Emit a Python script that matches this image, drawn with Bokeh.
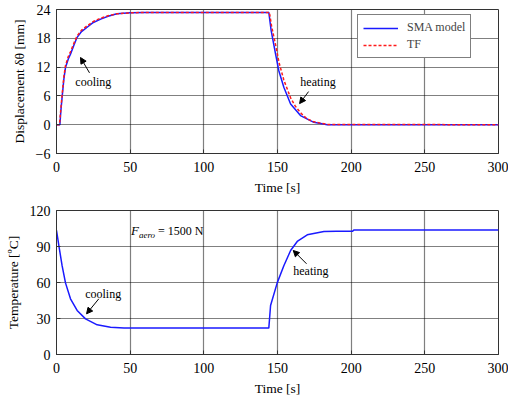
import numpy as np
from bokeh.plotting import figure
from bokeh.layouts import column
from bokeh.models import FixedTicker, Label, Arrow, NormalHead, Legend, LegendItem
from bokeh.embed import file_html
from bokeh.resources import INLINE

# ---- data ----
time_sma = [0, 2.3, 3.0, 3.8, 5.0, 6.1, 8.0, 9.5, 12, 14, 17, 20.8, 25, 30, 35, 41, 50, 60,
            144.1, 145.7, 148.7, 150.9, 154.3, 158.9, 165.6, 174.7, 183.8, 300]
disp_sma = [0, 0, 3.0, 5.7, 9.5, 11.9, 13.7, 14.7, 16.7, 18.2, 19.4, 20.3, 21.3, 22.0, 22.6, 23.1, 23.3, 23.4,
            23.4, 19.6, 14.7, 11.25, 7.8, 4.3, 1.9, 0.5, 0, 0]

time_tf = [0, 2.0, 3.0, 3.8, 5.0, 6.1, 8.0, 9.5, 12, 14, 17, 20.8, 25, 30, 35, 41, 50, 60,
           144.5, 146, 149, 151, 154.3, 158.9, 162, 165.6, 170, 174.7, 183.8, 300]
disp_tf = [0, 0, 3.5, 6.2, 10.0, 12.3, 14.2, 15.2, 17.1, 18.5, 19.7, 20.6, 21.5, 22.2, 22.7, 23.1, 23.3, 23.4,
           23.4, 20.5, 16.2, 13.0, 9.3, 5.6, 3.9, 2.5, 1.2, 0.6, 0.05, 0]

time_temp = [0, 1.6, 3.8, 6.1, 9.5, 14, 19.7, 27.6, 36.7, 45.8, 144.1, 145.3, 149.8, 154.3,
             158.9, 163.4, 170.2, 181.5, 190, 201, 202, 300]
temp = [103.5, 90.8, 74, 59.7, 46.4, 36.7, 29.7, 24.7, 22.8, 22, 22, 40.8, 59.7, 74,
        86.7, 94.2, 99.7, 102.5, 102.8, 102.8, 103.8, 103.8]

x_ticks = [0, 50, 100, 150, 200, 250, 300]
disp_ticks = [-6, 0, 6, 12, 18, 24]
temp_ticks = [0, 30, 60, 90, 120]

FONT = "Liberation Serif"
BLUE = "#1a1aff"
RED = "#ff1a1a"


def style(p, xt, yt, ylabel):
    p.xaxis.ticker = FixedTicker(ticks=xt)
    p.yaxis.ticker = FixedTicker(ticks=yt)
    p.xgrid.ticker = FixedTicker(ticks=xt)
    p.ygrid.ticker = FixedTicker(ticks=yt)
    for g in (p.xgrid, p.ygrid):
        g.grid_line_color = "black"
        g.grid_line_dash = "1 1"
        g.grid_line_alpha = 1.0
        g.grid_line_width = 1.2
    for ax in (p.xaxis, p.yaxis):
        ax.major_label_text_font = FONT
        ax.major_label_text_font_size = "14px"
        ax.major_label_text_color = "black"
        ax.axis_label_text_font = FONT
        ax.axis_label_text_font_size = "13.5px"
        ax.axis_label_text_font_style = "normal"
        ax.axis_label_text_color = "black"
        ax.major_tick_in = 4
        ax.major_tick_out = 0
        ax.minor_tick_line_color = None
        ax.axis_line_color = "#333333"
        ax.major_tick_line_color = "#333333"
    p.xaxis.major_label_standoff = 8
    p.yaxis.major_label_standoff = 6
    p.xaxis.axis_label = "Time [s]"
    p.xaxis.axis_label_standoff = 5
    p.yaxis.axis_label = ylabel
    p.yaxis.axis_label_standoff = 6
    p.outline_line_color = "#333333"
    p.outline_line_width = 1
    p.background_fill_color = "white"
    p.border_fill_color = "white"


def note(p, x, y, text):
    p.add_layout(Label(x=x, y=y, text=text, text_font=FONT, text_font_size="12px",
                       text_align="center", text_baseline="middle", text_color="black"))


def arrow(p, x0, y0, x1, y1):
    p.add_layout(Arrow(end=NormalHead(size=6, fill_color="black", line_color="black"),
                       x_start=x0, y_start=y0, x_end=x1, y_end=y1,
                       line_color="black", line_width=1))


# ---- top: displacement ----
p1 = figure(width=508, height=198, x_range=(0, 300), y_range=(-6, 24),
            output_backend="svg", toolbar_location=None,
            min_border_left=56, min_border_right=10, min_border_top=9, min_border_bottom=45)
style(p1, x_ticks, disp_ticks, "Displacement δθ [mm]")
r_sma = p1.line(time_sma, disp_sma, line_color=BLUE, line_width=1.5)
r_tf = p1.line(time_tf, disp_tf, line_color=RED, line_width=1.5, line_dash="3 2")
legend = Legend(items=[LegendItem(label="SMA model", renderers=[r_sma]),
                       LegendItem(label="TF", renderers=[r_tf])],
                location=(301, 95), label_text_font=FONT, label_text_font_size="12px",
                glyph_width=35, glyph_height=12, label_standoff=9, spacing=2, padding=5,
                border_line_color="black", border_line_width=1, background_fill_alpha=1,
                label_height=12)
p1.add_layout(legend)
note(p1, 25, 9, "cooling")
arrow(p1, 22.4, 10.8, 16.3, 14.0)
note(p1, 177.5, 9, "heating")
arrow(p1, 171.1, 6.9, 165, 4.4)

# ---- bottom: temperature ----
p2 = figure(width=508, height=200, x_range=(0, 300), y_range=(0, 120),
            output_backend="svg", toolbar_location=None,
            min_border_left=56, min_border_right=10, min_border_top=12, min_border_bottom=44)
style(p2, x_ticks, temp_ticks, "Temperature [ºC]")
p2.line(time_temp, temp, line_color=BLUE, line_width=1.5)
note(p2, 31.7, 50.6, "cooling")
arrow(p2, 28.7, 46.4, 20.4, 33.9)
note(p2, 172.7, 70, "heating")
arrow(p2, 169.7, 75.6, 160.7, 86.7)
p2.add_layout(Label(x=50.5, y=103, text="F", text_font=FONT, text_font_size="13px",
                    text_font_style="italic", text_baseline="middle", text_color="black"))
p2.add_layout(Label(x=50.5, y=103, x_offset=8, y_offset=-4, text="aero", text_font=FONT,
                    text_font_size="9px", text_font_style="italic", text_baseline="middle",
                    text_color="black"))
p2.add_layout(Label(x=50.5, y=103, x_offset=27, text="= 1500 N", text_font=FONT,
                    text_font_size="12px", text_baseline="middle", text_color="black"))

layout = column(p1, p2)
open("out.html", "w").write(file_html(layout, INLINE))
